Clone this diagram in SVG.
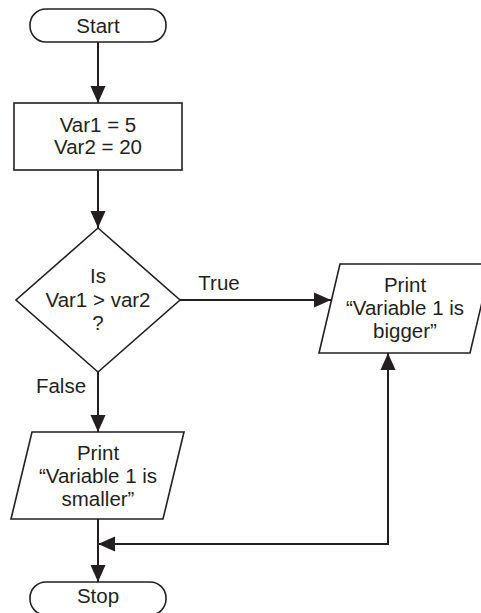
<svg xmlns="http://www.w3.org/2000/svg" width="481" height="613" viewBox="0 0 481 613">
<defs>
<style>
.shape{fill:#fff;stroke:#231f20;stroke-width:1.6}
.conn{fill:none;stroke:#231f20;stroke-width:2}
text{font-family:"Liberation Sans",Arial,sans-serif;font-size:20.5px;fill:#231f20;text-anchor:middle}
</style>
<marker id="arr" markerUnits="userSpaceOnUse" markerWidth="18" markerHeight="16" refX="17" refY="7.5" orient="auto-start-reverse" viewBox="0 0 18 15">
<path d="M0,0 L17,7.5 L0,15 z" fill="#231f20"/>
</marker>
</defs>
<rect width="481" height="613" fill="#fff"/>
<g id="connectors">
<path class="conn" d="M98,42 V103" marker-end="url(#arr)"/>
<path class="conn" d="M98,170 V228" marker-end="url(#arr)"/>
<path class="conn" d="M180,300 H331" marker-end="url(#arr)"/>
<path class="conn" d="M98,372 V432" marker-end="url(#arr)"/>
<path class="conn" d="M98,519 V582" marker-end="url(#arr)"/>
<path class="conn" d="M98,544 H388 V353" marker-start="url(#arr)" marker-end="url(#arr)"/>
<text x="219" y="290">True</text>
<text x="61" y="393">False</text>
</g>
<g id="start">
<rect class="shape" x="30" y="9" width="136" height="33" rx="16" ry="16"/>
<text x="98" y="33">Start</text>
</g>
<g id="assign">
<rect class="shape" x="14" y="103" width="168" height="67"/>
<text x="98" y="132">Var1 = 5</text>
<text x="98" y="154">Var2 = 20</text>
</g>
<g id="decision">
<polygon class="shape" points="98,228 180,300 98,372 16,300"/>
<text x="98" y="283">Is</text>
<text x="98" y="307">Var1 &gt; var2</text>
<text x="98" y="330">?</text>
</g>
<g id="print-bigger">
<polygon class="shape" points="340,264 491,264 470,353 319,353"/>
<text x="405" y="292">Print</text>
<text x="405" y="315">“Variable 1 is</text>
<text x="405" y="338">bigger”</text>
</g>
<g id="print-smaller">
<polygon class="shape" points="32,432 184,432 163,519 11,519"/>
<text x="98" y="460">Print</text>
<text x="98" y="483">“Variable 1 is</text>
<text x="98" y="506">smaller”</text>
</g>
<g id="stop">
<rect class="shape" x="30" y="582" width="136" height="33" rx="16" ry="16"/>
<text x="98" y="603">Stop</text>
</g>
</svg>
